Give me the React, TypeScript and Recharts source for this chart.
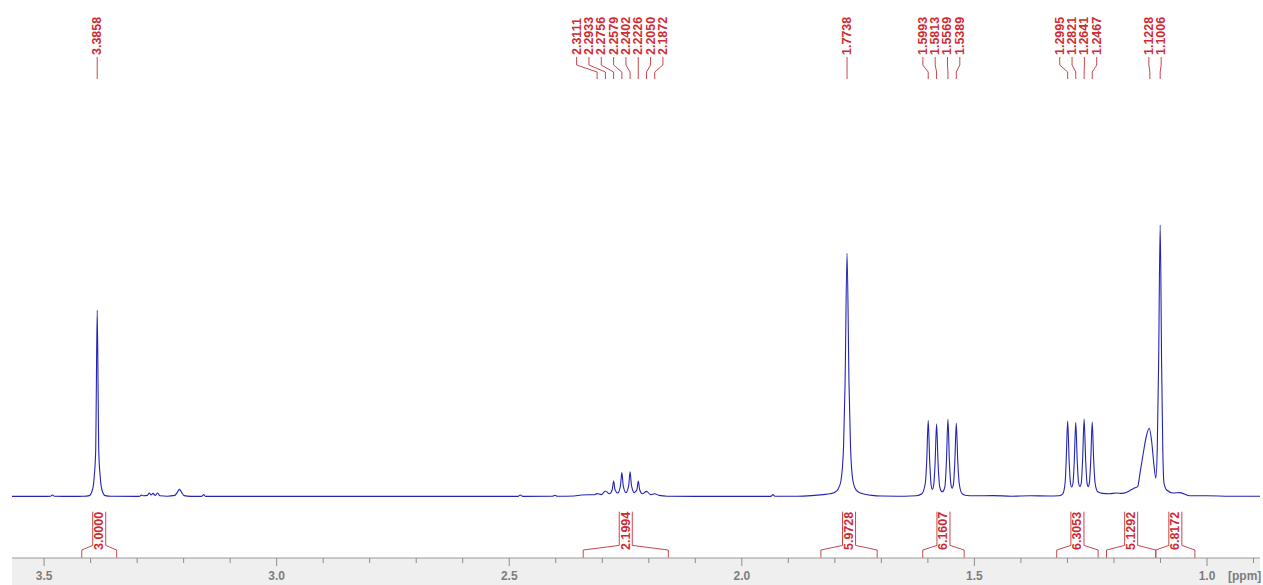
import React from 'react';
import { LineChart, Line, XAxis, YAxis, ReferenceLine, ReferenceDot } from 'recharts';

// ---------- data (ppm, intensity) ----------
const spectrumPoints: [number, number][] = [
  [3.569, 0.15], [3.5, 0.15], [3.486, 0.2], [3.482, 0.5], [3.478, 0.2], [3.44, 0.15],
  [3.415, 0.2], [3.403, 0.35], [3.3955, 2], [3.3923, 5], [3.389, 12], [3.388, 23],
  [3.3858, 46.75], [3.3836, 23], [3.3826, 12], [3.3793, 5], [3.3761, 2], [3.3688, 0.35],
  [3.355, 0.2], [3.3, 0.15], [3.294, 0.2], [3.291, 0.5], [3.287, 0.3], [3.278, 0.4],
  [3.274, 1.0], [3.27, 0.5], [3.266, 0.9], [3.261, 0.4], [3.256, 1.0], [3.251, 0.3],
  [3.235, 0.2], [3.219, 0.4], [3.214, 1.1], [3.209, 1.9], [3.204, 1.1], [3.199, 0.35],
  [3.185, 0.15], [3.161, 0.15], [3.157, 0.6], [3.153, 0.15], [3.0, 0.15], [2.8, 0.15],
  [2.6, 0.15], [2.481, 0.15], [2.476, 0.5], [2.471, 0.15], [2.407, 0.2], [2.402, 0.45],
  [2.397, 0.2], [2.36, 0.25], [2.345, 0.5], [2.33, 0.55], [2.318, 0.55], [2.3111, 0.85],
  [2.302, 0.6], [2.2933, 1.5], [2.2845, 0.8], [2.2786, 1.8], [2.2756, 4.0], [2.2726, 1.8],
  [2.2668, 1.0], [2.2609, 2.8], [2.2579, 6.1], [2.2549, 2.8], [2.249, 1.1], [2.2432, 2.9],
  [2.2402, 6.3], [2.2372, 2.9], [2.2314, 1.1], [2.2256, 1.8], [2.2226, 4.0], [2.2196, 1.8],
  [2.2138, 0.8], [2.205, 1.4], [2.1961, 0.6], [2.1872, 0.8], [2.178, 0.4], [2.16, 0.2],
  [2.1, 0.15], [1.94, 0.15], [1.937, 0.2], [1.933, 0.6], [1.929, 0.2], [1.88, 0.2],
  [1.85, 0.35], [1.825, 0.6], [1.81, 0.8], [1.8, 1.2], [1.793, 2.0], [1.787, 4],
  [1.7813, 12.5], [1.7781, 28], [1.7738, 60.9], [1.7695, 28], [1.7663, 12.5], [1.761, 4],
  [1.754, 1.7], [1.745, 1.0], [1.735, 0.7], [1.72, 0.4], [1.7, 0.25], [1.65, 0.2],
  [1.625, 0.3], [1.613, 0.8], [1.6055, 3.5], [1.6025, 9], [1.5993, 19.1], [1.5961, 9],
  [1.593, 3], [1.5903, 1.9], [1.5875, 3], [1.5845, 8.5], [1.5813, 18.25], [1.5781, 8.5],
  [1.5745, 2.5], [1.5691, 1.3], [1.5635, 2.5], [1.5601, 9], [1.5569, 19.4], [1.5537, 9],
  [1.5505, 3.2], [1.5479, 2.2], [1.545, 3.2], [1.5421, 8.8], [1.5389, 18.4], [1.5357, 8.8],
  [1.5325, 3.3], [1.527, 0.9], [1.52, 0.45], [1.5, 0.3], [1.46, 0.35], [1.42, 0.2],
  [1.38, 0.3], [1.34, 0.25], [1.318, 0.3], [1.31, 0.8], [1.305, 3.5], [1.3027, 9],
  [1.2995, 19], [1.2963, 9], [1.2935, 3.5], [1.2908, 2.5], [1.288, 3.5], [1.2853, 9],
  [1.2821, 18.6], [1.2789, 9], [1.276, 3.5], [1.2731, 2.6], [1.2702, 3.5], [1.2673, 9.5],
  [1.2641, 19.5], [1.2609, 9.5], [1.258, 3.6], [1.2554, 2.6], [1.2527, 3.6], [1.2499, 9],
  [1.2467, 18.75], [1.2435, 9], [1.2405, 3.5], [1.235, 1.3], [1.225, 0.9], [1.21, 0.8],
  [1.195, 1.0], [1.183, 0.9], [1.1727, 1.2], [1.163, 1.8], [1.1548, 2.3], [1.149, 2.6],
  [1.144, 5.9], [1.1369, 11], [1.1297, 15.5], [1.1241, 17.2], [1.119, 14], [1.114, 8],
  [1.11, 4.7], [1.1069, 12], [1.104, 33], [1.1006, 68], [1.0975, 33], [1.095, 12],
  [1.0924, 3.5], [1.0867, 1.75], [1.0724, 1.0], [1.0581, 1.1], [1.0366, 0.3], [1.0, 0.3],
  [0.95, 0.2], [0.886, 0.2],
];

const peakGroups: number[][] = [
  [3.3858],
  [2.3111, 2.2933, 2.2756, 2.2579, 2.2402, 2.2226, 2.205, 2.1872],
  [1.7738],
  [1.5993, 1.5813, 1.5569, 1.5389],
  [1.2995, 1.2821, 1.2641, 1.2467],
  [1.1228, 1.1006],
];

const integralStart = [3.419, 2.341, 1.83, 1.611, 1.323, 1.216, 1.11];
const integralEnd = [3.344, 2.158, 1.709, 1.522, 1.234, 1.11, 1.026];
const integralValues = ['3.0000', '2.1994', '5.9728', '6.1607', '6.3053', '5.1292', '6.8172'];

const axisTicks = [3.5, 3.4, 3.3, 3.2, 3.1, 3.0, 2.9, 2.8, 2.7, 2.6, 2.5, 2.4, 2.3, 2.2, 2.1, 2.0, 1.9, 1.8, 1.7, 1.6, 1.5, 1.4, 1.3, 1.2, 1.1, 1.0, 0.9];
const majorTicks = [3.5, 3.0, 2.5, 2.0, 1.5, 1.0];

// ---------- layout / style ----------
const X_DOMAIN: [number, number] = [0.886, 3.569];
const Y_DOMAIN: [number, number] = [-15.25, 124.25];
const RED = '#d02a32';
const LINE_RED = '#c8464c';
const BLUE = '#2424b4';
const FONT = '"Liberation Sans", Arial, sans-serif';
const LABEL_SPACING = 0.0265;
const GROUP_LABEL_SHIFT = [0, 0.0133, 0, 0.002, 0.0037, 0];
const LBL_TEXT = 110.5, LBL_A = 110, LBL_B = 108, LBL_C = 106.25, LBL_D = 104.5;
const BAR_HALF = 0.014, BAR_TOP = -3.675, BAR_BOTTOM = -12.1, FOOT_TOP = -13.25, FOOT_BOTTOM = -15.25;

const data = spectrumPoints.map(([ppm, i]) => ({ ppm, i }));

const rotatedText = (label: string, color: string) => (props: any) => {
  const { cx, cy } = props;
  return (
    <text
      x={cx}
      y={cy}
      transform={`rotate(-90 ${cx} ${cy})`}
      textAnchor="start"
      dominantBaseline="central"
      fill={color}
      fontSize={12.5}
      fontWeight="bold"
      fontFamily={FONT}
    >
      {label}
    </text>
  );
};

const AxisTick = (props: any) => {
  const { x, y, payload } = props;
  const v = payload.value as number;
  const major = majorTicks.some((m) => Math.abs(m - v) < 1e-6);
  return (
    <g>
      <line x1={x} x2={x} y1={y} y2={y + (major ? 8 : 5)} stroke="#8c8c8c" strokeWidth={1} />
      {major && (
        <text x={x} y={y + 22} textAnchor="middle" fill="#7d7d7d" fontSize={12} fontWeight="bold" fontFamily={FONT}>
          {v.toFixed(1)}
        </text>
      )}
      {major && Math.abs(v - 1.0) < 1e-6 && (
        <text x={x + 21} y={y + 22} textAnchor="start" fill="#7d7d7d" fontSize={12} fontWeight="bold" fontFamily={FONT}>
          [ppm]
        </text>
      )}
    </g>
  );
};

export default function App() {
  const segs: { a: { x: number; y: number }; b: { x: number; y: number } }[] = [];
  const labels: { x: number; y: number; text: string }[] = [];

  peakGroups.forEach((g, gi) => {
    const center = g.reduce((s, v) => s + v, 0) / g.length + GROUP_LABEL_SHIFT[gi];
    g.forEach((p, i) => {
      const lx = g.length === 1 ? p : center + ((g.length - 1) / 2 - i) * LABEL_SPACING;
      labels.push({ x: lx, y: LBL_TEXT, text: p.toFixed(4) });
      segs.push({ a: { x: lx, y: LBL_A }, b: { x: lx, y: LBL_B } });
      segs.push({ a: { x: lx, y: LBL_B }, b: { x: p, y: LBL_C } });
      segs.push({ a: { x: p, y: LBL_C }, b: { x: p, y: LBL_D } });
    });
  });

  const intLabels: { x: number; text: string }[] = [];
  integralStart.forEach((s, k) => {
    const e = integralEnd[k];
    const c = (s + e) / 2;
    intLabels.push({ x: c, text: integralValues[k] });
    const l = c + BAR_HALF;
    const r = c - BAR_HALF;
    segs.push({ a: { x: s, y: FOOT_BOTTOM }, b: { x: s, y: FOOT_TOP } });
    segs.push({ a: { x: s, y: FOOT_TOP }, b: { x: l, y: BAR_BOTTOM } });
    segs.push({ a: { x: l, y: BAR_BOTTOM }, b: { x: l, y: BAR_TOP } });
    segs.push({ a: { x: r, y: BAR_TOP }, b: { x: r, y: BAR_BOTTOM } });
    segs.push({ a: { x: r, y: BAR_BOTTOM }, b: { x: e, y: FOOT_TOP } });
    segs.push({ a: { x: e, y: FOOT_TOP }, b: { x: e, y: FOOT_BOTTOM } });
  });

  return (
    <div style={{ position: 'absolute', left: 0, top: 0, width: 1263, height: 585, background: '#ffffff' }}>
      <div style={{ position: 'absolute', left: 12, top: 558, width: 1248, height: 27, background: '#efefef' }} />
      <div style={{ position: 'absolute', left: 0, top: 0 }}>
        <LineChart width={1263} height={585} data={data} margin={{ top: 0, right: 3, bottom: 0, left: 12 }}>
          <XAxis
            type="number"
            dataKey="ppm"
            domain={X_DOMAIN}
            reversed
            allowDataOverflow
            ticks={axisTicks}
            interval={0}
            tick={<AxisTick />}
            tickLine={false}
            tickSize={0}
            tickMargin={0}
            axisLine={{ stroke: '#9a9a9a', strokeWidth: 1 }}
            height={27}
          />
          <YAxis hide type="number" domain={Y_DOMAIN} allowDataOverflow />
          {segs.map((s, k) => (
            <ReferenceLine
              key={`s${k}`}
              segment={[s.a, s.b]}
              stroke={LINE_RED}
              strokeWidth={1}
              ifOverflow="visible"
            />
          ))}
          <Line
            type="monotone"
            dataKey="i"
            stroke={BLUE}
            strokeWidth={1.1}
            dot={false}
            activeDot={false}
            isAnimationActive={false}
          />
          {labels.map((l, k) => (
            <ReferenceDot
              key={`l${k}`}
              x={l.x}
              y={l.y}
              r={0}
              ifOverflow="visible"
              shape={rotatedText(l.text, RED)}
            />
          ))}
          {intLabels.map((l, k) => (
            <ReferenceDot
              key={`i${k}`}
              x={l.x}
              y={FOOT_TOP}
              r={0}
              ifOverflow="visible"
              shape={rotatedText(l.text, RED)}
            />
          ))}
        </LineChart>
      </div>
    </div>
  );
}
